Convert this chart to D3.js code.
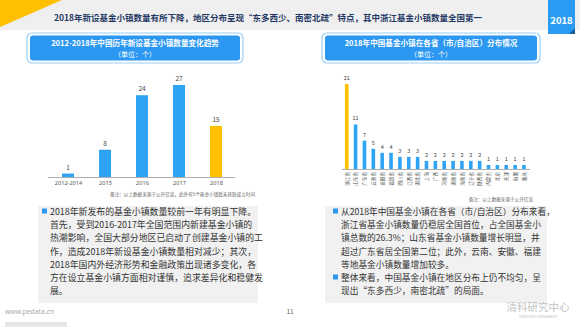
<!DOCTYPE html>
<html><head><meta charset="utf-8">
<script src="https://cdn.jsdelivr.net/npm/d3@7"></script>
<style>body{margin:0;background:#fff}svg{display:block;font-family:"Noto Sans CJK SC","Noto Sans",sans-serif}</style>
</head><body><svg id="c" width="580" height="327"></svg>
<script>
const years = ["2012-2014","2015","2016","2017","2018"];
const yearValues = [1,8,24,27,15];
const provinces = ["浙江省","山东省","广东省","云南省","安徽省","福建省","四川省","江西省","湖北省","上海","广西","河南省","湖南省","海南省","辽宁省","陕西省","内蒙古","北京","天津","新疆","重庆"];
const provinceValues = [21,11,7,5,4,4,3,3,3,2,2,2,2,2,2,2,1,1,1,1,1];
const leftText = ["2018年新发布的基金小镇数量较前一年有明显下降。","首先，受到2016-2017年全国范围内新建基金小镇的","热潮影响，全国大部分地区已启动了创建基金小镇的工","作，造成2018年新设基金小镇数量相对减少；其次，","2018年国内外经济形势和金融政策出现诸多变化，各","方在设立基金小镇方面相对谨慎，追求差异化和稳健发","展。"];
const rightText = ["从2018年中国基金小镇在各省（市/自治区）分布来看，","浙江省基金小镇数量仍稳居全国首位，占全国基金小","镇总数的26.3%；山东省基金小镇数量增长明显，并","超过广东省居全国第二位；此外，云南、安徽、福建","等地基金小镇数量增加较多。","整体来看，中国基金小镇在地区分布上仍不均匀，呈","现出“东多西少，南密北疏”的局面。"];
const rightBullets = [0,5];

const svg = d3.select("#c");
const BLUE="#2fa4f4", YEL="#ffc000";

// header
svg.append("rect").attr("x",0).attr("y",0).attr("width",580).attr("height",30).attr("fill","#efefef");
svg.append("path").attr("d","M0,0L62,0L0,27Z").attr("fill",YEL);
svg.append("text").attr("x",268).attr("y",21).attr("text-anchor","middle").attr("font-size",8.5).attr("font-weight","bold").attr("fill","#1f3864")
  .text("2018年新设基金小镇数量有所下降，地区分布呈现“东多西少、南密北疏”特点，其中浙江基金小镇数量全国第一");
svg.append("rect").attr("x",548).attr("y",0).attr("width",27).attr("height",34).attr("fill","#2b9af3");
svg.append("path").attr("d","M569,34L575,34L575,28Z").attr("fill","#1a5fa0");
svg.append("text").attr("x",561.5).attr("y",24).attr("text-anchor","middle").attr("font-size",9.5).attr("font-weight","bold").attr("fill","#fff").text("2018");

function titleBox(x0,x1,t1){
  svg.append("rect").attr("x",x0).attr("y",33).attr("width",x1-x0).attr("height",30).attr("rx",5).attr("fill","#fff").attr("stroke","#9ccff5").attr("stroke-width",1.2);
  svg.append("rect").attr("x",x0+3).attr("y",35.5).attr("width",x1-x0-6).attr("height",25).attr("rx",3).attr("fill","#2b97f0");
  const cx=(x0+x1)/2;
  svg.append("text").attr("x",cx).attr("y",46).attr("text-anchor","middle").attr("font-size",7.6).attr("font-weight","bold").attr("fill","#fff").text(t1);
  svg.append("text").attr("x",cx).attr("y",56.5).attr("text-anchor","middle").attr("font-size",7).attr("fill","#fff").text("（单位：个）");
}
titleBox(27,243,"2012-2018年中国历年新设基金小镇数量变化趋势");
titleBox(322,540,"2018年中国基金小镇在各省（市/自治区）分布情况");

// left chart
const xL = d3.scalePoint().domain(years).range([49.5,234.5]).padding(0.5);
const yL = d3.scaleLinear().domain([0,27]).range([177,85]);
svg.append("line").attr("x1",48).attr("x2",235).attr("y1",177.5).attr("y2",177.5).attr("stroke","#999").attr("stroke-width",0.8);
const gL = svg.append("g");
gL.selectAll("rect").data(years).join("rect")
  .attr("x",d=>xL(d)-6).attr("width",12)
  .attr("y",(d,i)=>yL(yearValues[i])).attr("height",(d,i)=>yL(0)-yL(yearValues[i]))
  .attr("fill",(d,i)=>i===years.length-1?YEL:BLUE);
gL.selectAll("text.v").data(years).join("text").attr("class","v")
  .attr("x",d=>xL(d)).attr("y",(d,i)=>yL(yearValues[i])-4).attr("text-anchor","middle").attr("font-size",6.5).attr("fill","#444")
  .text((d,i)=>yearValues[i]);
const axL = svg.append("g").attr("transform","translate(0,177.5)").call(d3.axisBottom(xL).tickSize(0).tickPadding(4));
axL.select(".domain").remove();
axL.selectAll("text").attr("font-size",5.6).attr("fill","#555").attr("font-family","'Noto Sans',sans-serif");
svg.append("text").attr("x",255).attr("y",196).attr("text-anchor","end").attr("font-size",4.6).attr("fill","#666")
  .text("备注：以上数据来源于公开信息，此外有5个基金小镇暂未获取成立时间");

// right chart
const xR = d3.scalePoint().domain(provinces).range([342.3,528.4]).padding(0.5);
const yR = d3.scaleLinear().domain([0,21]).range([169,84]);
svg.append("line").attr("x1",342).attr("x2",530).attr("y1",169.5).attr("y2",169.5).attr("stroke","#999").attr("stroke-width",0.8);
const gR = svg.append("g");
gR.selectAll("rect").data(provinces).join("rect")
  .attr("x",d=>xR(d)-1.8).attr("width",3.6)
  .attr("y",(d,i)=>yR(provinceValues[i])).attr("height",(d,i)=>yR(0)-yR(provinceValues[i]))
  .attr("fill",(d,i)=>i===0?YEL:BLUE);
gR.selectAll("text.v").data(provinces).join("text").attr("class","v")
  .attr("x",d=>xR(d)).attr("y",(d,i)=>yR(provinceValues[i])-4).attr("text-anchor","middle").attr("font-size",5.5).attr("fill","#444")
  .text((d,i)=>provinceValues[i]);
gR.selectAll("text.l").data(provinces).join("text").attr("class","l")
  .attr("transform",d=>`translate(${xR(d)+1.8},172) rotate(-90)`).attr("text-anchor","end").attr("font-size",4.6).attr("fill","#555")
  .text(d=>d);
svg.append("text").attr("x",533).attr("y",201).attr("text-anchor","end").attr("font-size",4.6).attr("fill","#666").text("备注：以上数据来源于公开信息");

// text boxes
function textBox(x0,y0,w,h,lines,bullets,tx,fs){
  svg.append("rect").attr("x",x0).attr("y",y0).attr("width",w).attr("height",h).attr("fill","#f1f1f1");
  lines.forEach((s,i)=>{
    const y=215+i*13.2;
    if(bullets.includes(i)) svg.append("rect").attr("x",tx-8).attr("y",y-6.5).attr("width",5).attr("height",5).attr("fill","#2b97f0");
    svg.append("text").attr("x",tx).attr("y",y).attr("font-size",fs).attr("fill","#333").text(s);
  });
}
textBox(38,206,220,97,leftText,[0],50,8.9);
textBox(325,206,222,97,rightText,rightBullets,341,8.7);

// footer
svg.append("text").attr("x",5).attr("y",314).attr("font-size",6.8).attr("fill","#aaa").attr("font-family","'Noto Sans',sans-serif").text("www.pedata.cn");
svg.append("text").attr("x",290).attr("y",314).attr("text-anchor","middle").attr("font-size",6.5).attr("fill","#666").text("11");
svg.append("text").attr("x",538).attr("y",311).attr("text-anchor","middle").attr("font-size",10.5).attr("fill","#c3c3c3").text("清科研究中心");
svg.append("text").attr("x",538).attr("y",318).attr("text-anchor","middle").attr("font-size",3.8).attr("fill","#c3c3c3").attr("font-family","'Noto Sans',sans-serif").text("ZERO2IPO RESEARCH");
svg.append("rect").attr("x",5).attr("y",322).attr("width",62).attr("height",5).attr("fill","#e6e6e6");
</script></body></html>
